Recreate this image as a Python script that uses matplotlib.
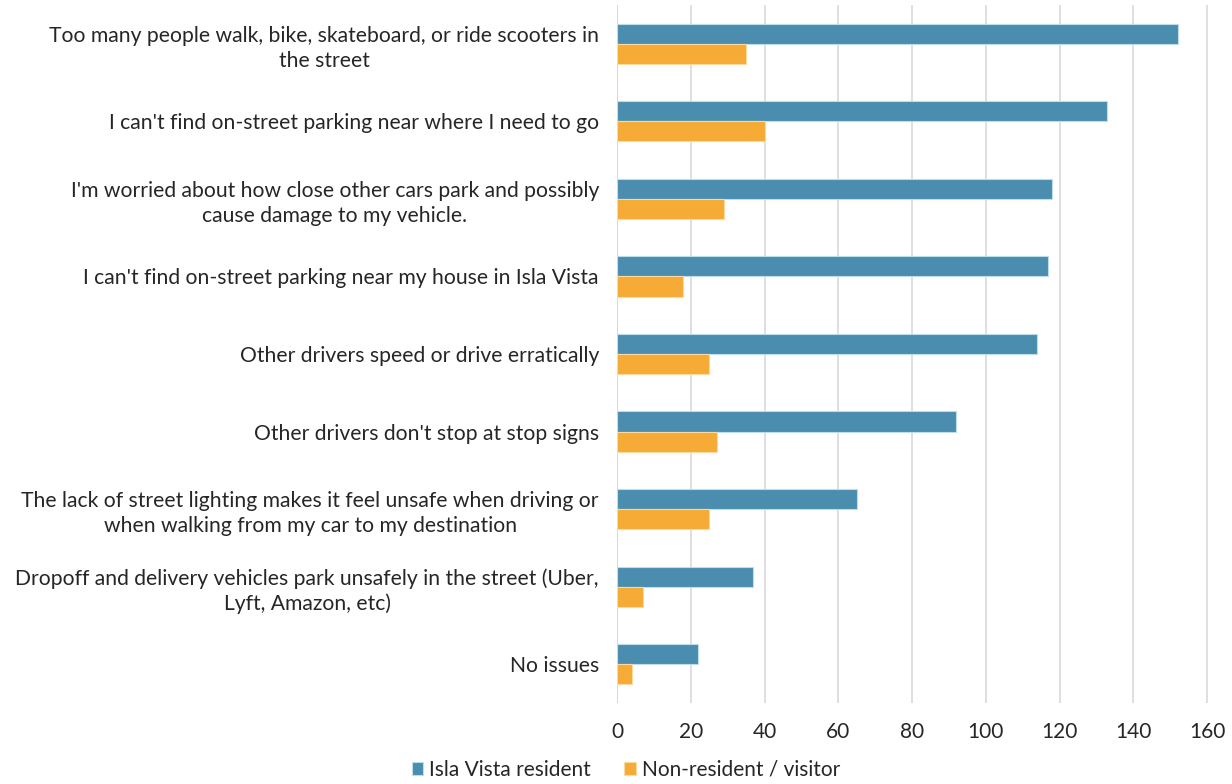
import matplotlib
matplotlib.use("Agg")
import matplotlib.pyplot as plt
import numpy as np

categories = [
    "Too many people walk, bike, skateboard, or ride scooters in\nthe street",
    "I can't find on-street parking near where I need to go",
    "I'm worried about how close other cars park and possibly\ncause damage to my vehicle.",
    "I can't find on-street parking near my house in Isla Vista",
    "Other drivers speed or drive erratically",
    "Other drivers don't stop at stop signs",
    "The lack of street lighting makes it feel unsafe when driving or\nwhen walking from my car to my destination",
    "Dropoff and delivery vehicles park unsafely in the street (Uber,\nLyft, Amazon, etc)",
    "No issues",
]
residents = [152, 133, 118, 117, 114, 92, 65, 37, 22]
visitors = [35, 40, 29, 18, 25, 27, 25, 7, 4]
series_names = ["Isla Vista resident", "Non-resident / visitor"]
x_ticks = [0, 20, 40, 60, 80, 100, 120, 140, 160]

blue = "#4A8DAE"
orange = "#F5AB35"

plt.rcParams["font.family"] = ["Lato", "DejaVu Sans"]

fig = plt.figure(figsize=(12.32, 7.84), dpi=100)
ax = fig.add_axes([617 / 1232, 1 - 703 / 784, (1215 - 617) / 1232, (703 - 5) / 784])

y = np.arange(len(categories))
h = 0.26
ax.barh(y - h / 2, residents, height=h, color=blue, edgecolor="#BFDCEA",
        linewidth=0.8, label=series_names[0], zorder=3)
ax.barh(y + h / 2, visitors, height=h, color=orange, edgecolor="#FBD9A0",
        linewidth=0.8, label=series_names[1], zorder=3)

ax.set_ylim(len(categories) - 0.5, -0.5)
ax.set_xlim(0, 160 * (1215 - 617) / (1207 - 617))
ax.set_xticks(x_ticks)
ax.set_xticklabels([str(t) for t in x_ticks], fontsize=15, color="#262626")
ax.set_yticks(y)
ax.set_yticklabels(categories, fontsize=15.2, color="#262626")
for lbl in ax.get_yticklabels():
    lbl.set_multialignment("center")
    lbl.set_linespacing(1.3)

ax.grid(axis="x", color="#D9D9D9", linewidth=1.2, zorder=0)
ax.axvline(0, color="#D0D0D0", linewidth=1.2, zorder=1)
for s in ax.spines.values():
    s.set_visible(False)
ax.tick_params(axis="both", length=0)
ax.tick_params(axis="x", pad=14)
ax.tick_params(axis="y", pad=13)

fig.legend(loc="center", bbox_to_anchor=(626 / 1232, 1 - 770 / 784), ncol=2,
           frameon=False, fontsize=15, handlelength=0.55, handleheight=0.55,
           handletextpad=0.3, columnspacing=1.6, labelcolor="#262626")

fig.savefig("out.png", dpi=100)
